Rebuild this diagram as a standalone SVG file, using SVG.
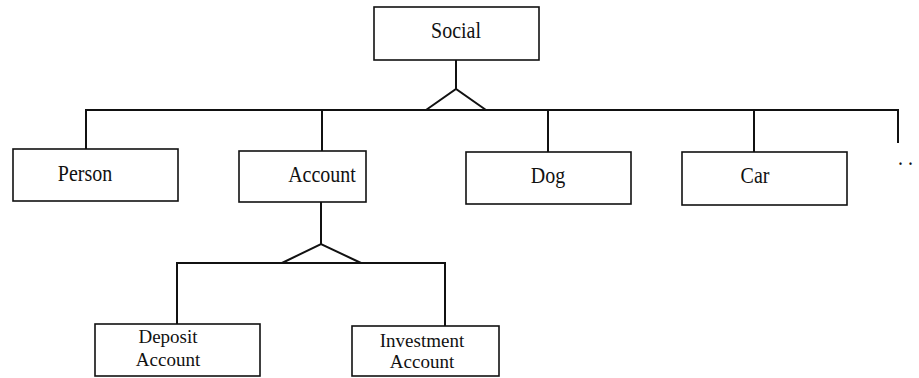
<svg xmlns="http://www.w3.org/2000/svg" width="919" height="378" viewBox="0 0 919 378">
  <style>
    .box { fill: #fff; stroke: #111; stroke-width: 1.6; }
    .lbl { font-family: "Liberation Serif", "Times New Roman", serif; font-size: 20px; fill: #111; text-anchor: middle; }
    .lbl2 { font-family: "Liberation Serif", "Times New Roman", serif; font-size: 19px; fill: #111; text-anchor: middle; }
    .conn { fill: none; stroke: #111; stroke-width: 2; stroke-linejoin: miter; }
  </style>
  <rect width="919" height="378" fill="#fff"/>

  <!-- generalization connectors -->
  <g id="connectors">
    <!-- Social to its subtypes -->
    <line class="conn" x1="456" y1="60" x2="456" y2="89"/>
    <polyline class="conn" points="426,110 456,89 486,110"/>
    <polyline class="conn" points="86,149 86,110 898,110 898,143"/>
    <line class="conn" x1="322" y1="110" x2="322" y2="151"/>
    <line class="conn" x1="548" y1="110" x2="548" y2="152"/>
    <line class="conn" x1="754" y1="110" x2="754" y2="152"/>
    <!-- Account to its subtypes -->
    <line class="conn" x1="321" y1="202" x2="321" y2="244"/>
    <polyline class="conn" points="282,263 321,244 361,263"/>
    <polyline class="conn" points="177,324 177,263 445,263 445,326"/>
  </g>

  <!-- single-line labels are drawn slightly tall: scale(1 1.12) -->
  <g id="social">
    <rect class="box" x="374" y="7" width="165" height="53"/>
    <text class="lbl" transform="translate(456 38) scale(1 1.12)">Social</text>
  </g>
  <g id="person">
    <rect class="box" x="13" y="149" width="165" height="52"/>
    <text class="lbl" transform="translate(85 181) scale(1 1.12)">Person</text>
  </g>
  <g id="account">
    <rect class="box" x="239" y="151" width="127" height="51"/>
    <text class="lbl" transform="translate(322 182) scale(1 1.12)">Account</text>
  </g>
  <g id="dog">
    <rect class="box" x="466" y="152" width="165" height="52"/>
    <text class="lbl" transform="translate(548 183) scale(1 1.12)">Dog</text>
  </g>
  <g id="car">
    <rect class="box" x="682" y="152" width="165" height="53"/>
    <text class="lbl" transform="translate(755 183) scale(1 1.12)">Car</text>
  </g>
  <g id="more">
    <text class="lbl" transform="translate(908 165) scale(1 1.12)" letter-spacing="5">..</text>
  </g>
  <g id="deposit-account">
    <rect class="box" x="95" y="324" width="165" height="52"/>
    <text class="lbl2" x="168" y="343">Deposit</text>
    <text class="lbl2" x="168" y="366">Account</text>
  </g>
  <g id="investment-account">
    <rect class="box" x="352" y="326" width="147" height="50"/>
    <text class="lbl2" x="422" y="347">Investment</text>
    <text class="lbl2" x="422" y="368">Account</text>
  </g>
</svg>
